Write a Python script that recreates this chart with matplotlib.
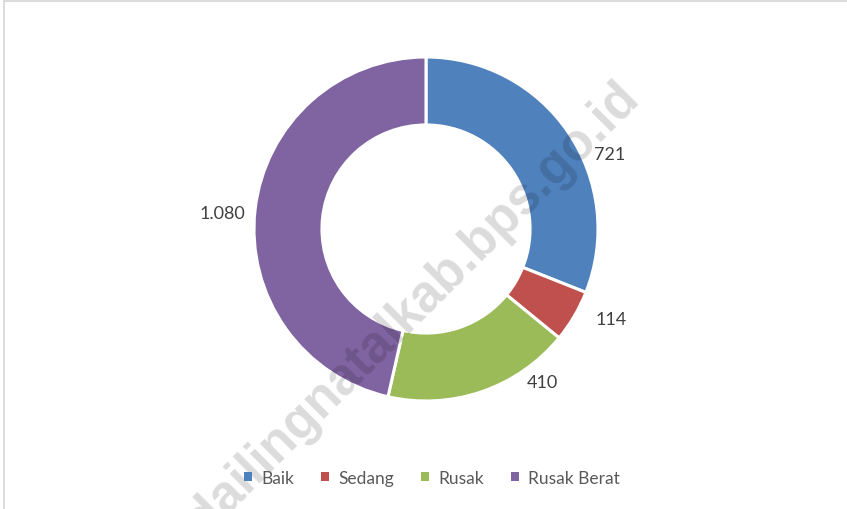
import matplotlib
matplotlib.use("Agg")
import matplotlib.pyplot as plt
from matplotlib.lines import Line2D
from matplotlib.patches import Patch

categories = ["Baik", "Sedang", "Rusak", "Rusak Berat"]
values = [721, 114, 410, 1080]
value_labels = ["721", "114", "410", "1.080"]
colors = ["#4F81BD", "#C0504D", "#9BBB59", "#8064A2"]

plt.rcParams['font.family'] = ['Lato', 'DejaVu Sans']

W, H = 847, 510
fig = plt.figure(figsize=(W / 100, H / 100), dpi=100)
fig.patch.set_facecolor("white")

# border lines (top and left)
fig.add_artist(Line2D([4 / W, 4 / W], [0, 1 - 2 / H], transform=fig.transFigure, color="#d9d9d9", lw=1.3))
fig.add_artist(Line2D([4 / W, 1], [1 - 2 / H, 1 - 2 / H], transform=fig.transFigure, color="#d9d9d9", lw=1.3))

cx, cy, R = 426, 230, 172
ax = fig.add_axes([(cx - R) / W, (H - cy - R) / H, 2 * R / W, 2 * R / H])
wedges, _ = ax.pie(values, colors=colors, startangle=90, counterclock=False, radius=1.0,
                   wedgeprops=dict(width=0.395, edgecolor="white", linewidth=2.2))
ax.set_xlim(-1, 1)
ax.set_ylim(-1, 1)
ax.axis("off")

label_pos = [(1.07, 0.436), (1.076, -0.523), (0.674, -0.89), (-1.186, 0.093)]
for (lx, ly), txt in zip(label_pos, value_labels):
    ax.text(lx, ly, txt, ha="center", va="center", fontsize=13, color="#404040", clip_on=False)

handles = [Patch(facecolor=c, edgecolor="none") for c in colors]
leg = fig.legend(handles, categories, loc="center", bbox_to_anchor=(432 / W, 1 - 479 / H),
                 ncol=4, frameon=False, fontsize=12.5, handlelength=0.45, handleheight=0.45,
                 handletextpad=0.55, columnspacing=1.55)
for t in leg.get_texts():
    t.set_color("#595959")

# watermark
fig.text(641 / W, 1 - 99 / H, "mandailingnatalkab.bps.go.id", rotation=45, ha="right", va="baseline",
         fontsize=37, fontweight="bold", color="black", alpha=0.14, family="Liberation Sans",
         rotation_mode="anchor")

fig.savefig("out.png", dpi=100, facecolor="white")
